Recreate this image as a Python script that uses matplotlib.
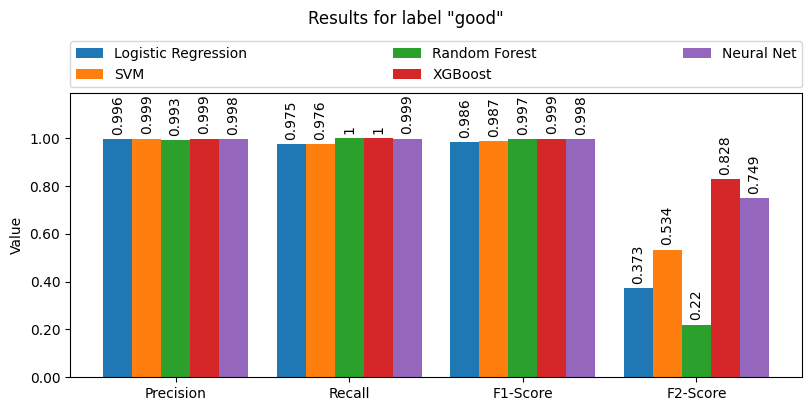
import numpy as np
from matplotlib import pyplot as plt
from matplotlib.ticker import FormatStrFormatter

metrics = ["Precision", "Recall", "F1-Score", "F2-Score"]
models = ["Logistic Regression", "SVM", "Random Forest", "XGBoost", "Neural Net"]
logreg = [0.996, 0.975, 0.986, 0.373]
svm = [0.999, 0.976, 0.987, 0.534]
rforest = [0.993, 1.0, 0.997, 0.22]
xgb = [0.999, 1.0, 0.999, 0.828]
nnet = [0.998, 0.999, 0.998, 0.749]
scores = [logreg, svm, rforest, xgb, nnet]

fig = plt.figure(figsize=(8.11, 4.11), dpi=100)
ax = fig.add_axes([0.0863, 0.0827, 0.9026, 0.691])

x = np.arange(len(metrics))
width = 1 / (len(models) + 1)
for i, (name, vals) in enumerate(zip(models, scores)):
    offset = (i - (len(models) - 1) / 2) * width
    bars = ax.bar(x + offset, vals, width, label=name)
    ax.bar_label(bars, labels=["{:g}".format(v) for v in vals], rotation=90, padding=3)

ax.set_xticks(x)
ax.set_xticklabels(metrics)
ax.set_ylim(0, 1.19)
ax.set_yticks(np.arange(0, 1.01, 0.2))
ax.yaxis.set_major_formatter(FormatStrFormatter("%.2f"))
ax.set_ylabel("Value")
ax.legend(bbox_to_anchor=(0, 1.02, 1, 0.102), loc="lower left", mode="expand",
          ncol=3, borderaxespad=0)
fig.suptitle('Results for label "good"', y=0.975)

plt.savefig("out.png")
